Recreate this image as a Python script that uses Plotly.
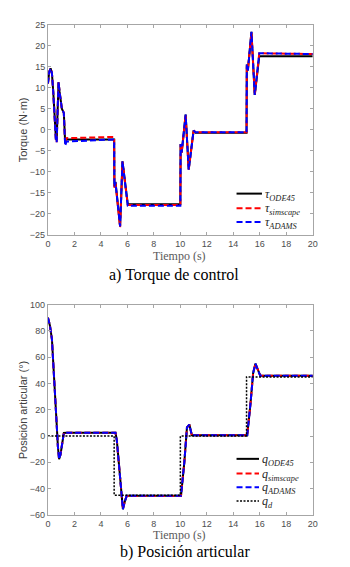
import plotly.graph_objects as go

# ---- Torque de control (N·m) ----
t_tau_ode = [0, 0.1, 0.2, 0.3, 0.4, 0.5, 0.6, 0.66, 0.72, 0.8, 0.88, 0.95, 1.05, 1.2, 1.3, 1.4,
             5.0, 5.02, 5.1, 5.45, 5.63, 6.03, 10.0, 10.02, 10.1, 10.4, 10.63, 11.0, 11.15,
             15.0, 15.02, 15.1, 15.37, 15.62, 15.96, 20.0]
tau_ode = [11.0, 13.8, 14.6, 13.5, 9.0, 3.0, -2.0, -2.5, 3.0, 11.3, 9.0, 7.0, 5.0, 4.0, -3.0, -2.3,
           -2.3, -13.5, -12.4, -22.9, -7.5, -17.7, -17.7, -3.4, -5.4, 3.6, -9.4, -0.2, -0.7,
           -0.7, 15.5, 14.1, 23.3, 8.3, 17.5, 17.5]

t_tau_sim = [0, 0.1, 0.2, 0.3, 0.4, 0.5, 0.6, 0.66, 0.72, 0.8, 0.88, 0.95, 1.05, 1.2, 1.3, 1.4,
             4.5, 5.0, 5.02, 5.1, 5.45, 5.63, 6.03, 10.0, 10.02, 10.1, 10.4, 10.63, 11.0, 11.15,
             15.0, 15.02, 15.1, 15.37, 15.62, 15.96, 20.0]
tau_sim = [11.0, 13.8, 14.6, 13.5, 9.0, 3.0, -2.5, -3.0, 3.0, 11.4, 9.0, 7.0, 5.0, 4.0, -3.5, -2.0,
           -1.6, -1.7, -13.8, -12.6, -23.2, -7.6, -17.9, -17.9, -3.5, -5.5, 3.6, -9.5, -0.2, -0.6,
           -0.6, 15.6, 14.2, 23.3, 8.2, 18.2, 18.0]

t_tau_adams = [0, 0.1, 0.2, 0.3, 0.4, 0.5, 0.6, 0.66, 0.72, 0.8, 0.88, 0.95, 1.05, 1.2, 1.3, 1.4,
               3.0, 5.0, 5.02, 5.1, 5.45, 5.63, 6.03, 10.0, 10.02, 10.1, 10.4, 10.63, 11.0, 11.15,
               15.0, 15.02, 15.1, 15.37, 15.62, 15.96, 20.0]
tau_adams = [11.0, 13.8, 14.6, 13.5, 9.0, 3.0, -2.5, -3.0, 3.0, 11.4, 9.0, 7.0, 5.0, 4.0, -3.8, -2.8,
             -2.5, -2.3, -13.6, -12.5, -23.0, -7.5, -18.1, -18.1, -3.4, -5.4, 3.6, -9.5, -0.2, -0.6,
             -0.6, 15.5, 14.1, 23.3, 8.3, 18.2, 18.0]

# ---- Posición articular (°) ----
t_q = [0, 0.15, 0.3, 0.42, 0.54, 0.66, 0.75, 0.84, 0.95, 1.05, 1.2, 1.4,
       5.1, 5.2, 5.4, 5.66, 5.8, 5.95, 10.05, 10.3, 10.5, 10.68, 10.87, 11.0,
       15.05, 15.3, 15.5, 15.67, 15.85, 16.04, 20.0]
q_ode = [90, 84, 73.8, 55, 29, 9, -8, -17.6, -14, -6, 2.3, 2.5,
         2.5, -3, -28, -55.7, -50, -45.5, -45.5, -20, 6.5, 8.7, 0.5, 0.5,
         0.5, 25, 48, 55.1, 50, 45.8, 45.8]
q_sim = [90, 84, 73.8, 55, 29, 9, -8, -17.4, -14, -6, 2.3, 2.5,
         2.5, -3, -28, -55.5, -50, -45.6, -45.6, -20, 6.5, 8.5, 0.6, 0.6,
         0.6, 25, 48, 55.0, 50, 45.8, 45.8]
q_adams = [90, 84, 73.8, 55, 29, 9, -8, -17.6, -14, -6, 2.3, 2.5,
           2.5, -3, -28, -55.7, -50, -45.5, -45.5, -20, 6.5, 8.7, 0.5, 0.5,
           0.5, 25, 48, 55.1, 50, 45.8, 45.8]

t_qd = [0, 5, 5, 10, 10, 15, 15, 20]
q_d = [0, 0, -45, -45, 0, 0, 45, 45]

x_ticks = list(range(0, 21, 2))
tau_ticks = list(range(-25, 26, 5))
q_ticks = list(range(-60, 101, 20))

tau_names = ["<i>τ<sub>ODE45</sub></i>", "<i>τ<sub>simscape</sub></i>", "<i>τ<sub>ADAMS</sub></i>"]
q_names = ["<i>q<sub>ODE45</sub></i>", "<i>q<sub>simscape</sub></i>", "<i>q<sub>ADAMS</sub></i>",
           "<i>q<sub>d</sub></i>"]

W, H = 350, 567
def px(x): return x / W
def py(y): return 1 - y / H

sans = "Liberation Sans, Arial, sans-serif"
serif = "Liberation Serif, Times New Roman, serif"

# line styles shared by plot traces and legend keys
solid = dict(color="black", width=2, dash="solid")
red_dash = dict(color="#ff0000", width=2, dash="6px,3px")
blue_dash = dict(color="#0000ff", width=2, dash="6px,3px")
ref_dot = dict(color="black", width=1.5, dash="2px,1.5px")

fig = go.Figure()

for t, v, st, nm in [(t_tau_ode, tau_ode, solid, tau_names[0]),
                     (t_tau_sim, tau_sim, red_dash, tau_names[1]),
                     (t_tau_adams, tau_adams, blue_dash, tau_names[2])]:
    fig.add_trace(go.Scatter(x=t, y=v, mode="lines", xaxis="x", yaxis="y",
                             line=st, name=nm, showlegend=False))

for t, v, st, nm in [(t_q, q_ode, solid, q_names[0]),
                     (t_q, q_sim, red_dash, q_names[1]),
                     (t_q, q_adams, blue_dash, q_names[2]),
                     (t_qd, q_d, ref_dot, q_names[3])]:
    fig.add_trace(go.Scatter(x=t, y=v, mode="lines", xaxis="x2", yaxis="y2",
                             line=st, name=nm, showlegend=False))

axis_common = dict(showgrid=False, zeroline=False, showline=True, linecolor="#a6a6a6",
                   linewidth=1, mirror="ticks", ticks="inside", ticklen=3,
                   tickcolor="#a6a6a6", tickfont=dict(family=sans, size=9, color="#4d4d4d"))

xdom = [px(46), px(317)]
fig.update_layout(
    width=W, height=H, margin=dict(l=0, r=0, t=0, b=0),
    plot_bgcolor="white", paper_bgcolor="white", showlegend=False,
    xaxis=dict(domain=xdom, range=[0, 20], tickvals=x_ticks, anchor="y", **axis_common),
    yaxis=dict(domain=[py(234), py(20)], range=[-25, 25], tickvals=tau_ticks, anchor="x",
               **axis_common),
    xaxis2=dict(domain=xdom, range=[0, 20], tickvals=x_ticks, anchor="y2", **axis_common),
    yaxis2=dict(domain=[py(519), py(305)], range=[-60, 100], tickvals=q_ticks, anchor="x2",
                **axis_common),
)

annotations = [
    dict(text="Torque (N·m)", x=px(20), y=py(127), textangle=-90,
         font=dict(family=sans, size=11, color="#404040")),
    dict(text="Posición articular (°)", x=px(20), y=py(412), textangle=-90,
         font=dict(family=sans, size=11, color="#404040")),
    dict(text="Tiempo (s)", x=px(181), y=py(256),
         font=dict(family=serif, size=12, color="#595959")),
    dict(text="Tiempo (s)", x=px(181), y=py(540),
         font=dict(family=serif, size=12, color="#595959")),
    dict(text="a) Torque de control", x=px(175), y=py(275),
         font=dict(family=serif, size=16, color="black")),
    dict(text="b) Posición articular", x=px(186), y=py(557),
         font=dict(family=serif, size=16, color="black")),
]
for a in annotations:
    a.update(xanchor="center")

# legend keys drawn as short line segments with labels beside them
shapes = []
legend_sets = [
    (tau_names, [solid, red_dash, blue_dash], [192, 207, 221], 239, 265),
    (q_names, [solid, red_dash, blue_dash, ref_dot], [462, 477, 491, 505], 239, 262),
]
for names, styles, ys, x0, x1 in legend_sets:
    for nm, st, yy in zip(names, styles, ys):
        shapes.append(dict(type="line", xref="paper", yref="paper",
                           x0=px(x0), x1=px(x1), y0=py(yy), y1=py(yy), line=st))
        annotations.append(dict(text=nm, x=px(x1 + 1), y=py(yy + 1), xanchor="left",
                                font=dict(family=serif, size=12, color="#262626")))

for a in annotations:
    a.update(xref="paper", yref="paper", showarrow=False, yanchor="middle")
fig.update_layout(annotations=annotations, shapes=shapes)

fig.write_html("out.html")
